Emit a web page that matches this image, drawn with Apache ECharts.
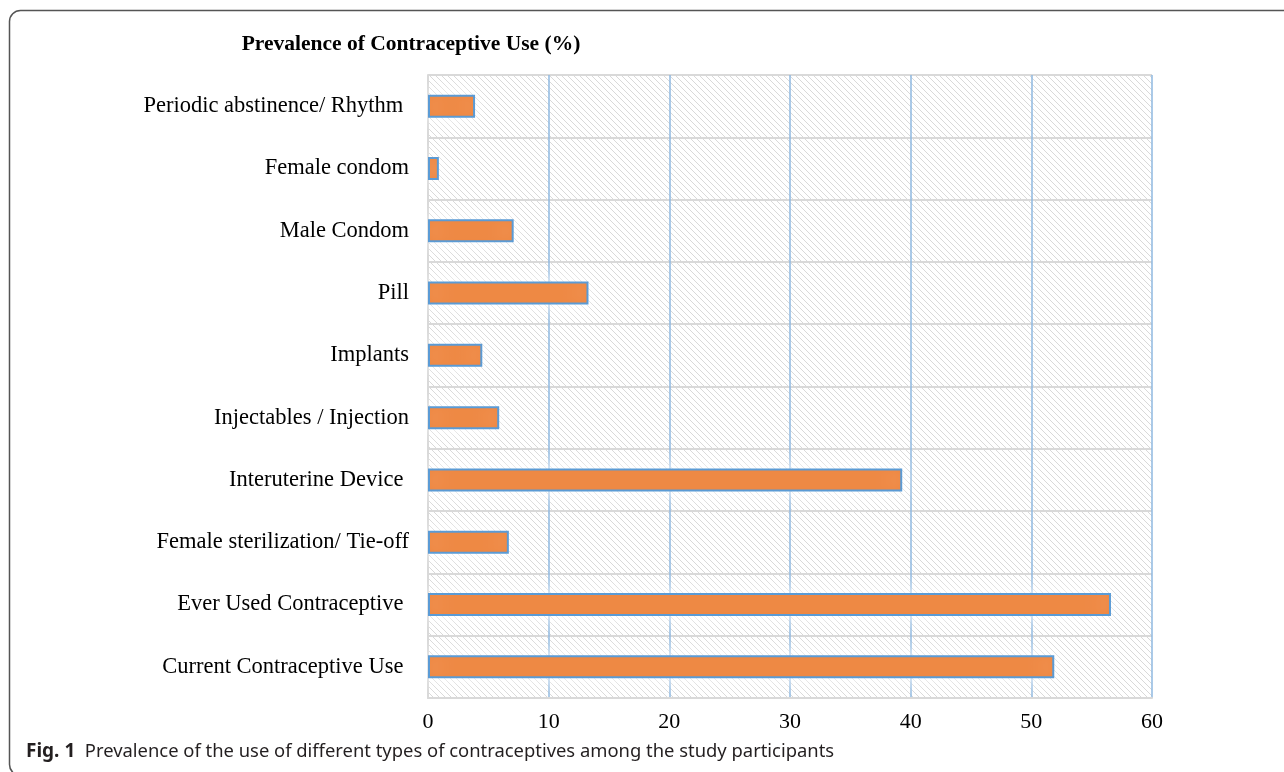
<!DOCTYPE html>
<html>
<head>
<meta charset="utf-8">
<script src="https://cdn.jsdelivr.net/npm/echarts@6/dist/echarts.min.js"></script>
<style>
  html, body { margin: 0; padding: 0; background: #fff; }
  #chart { width: 1284px; height: 772px; }
</style>
</head>
<body>
<div id="chart"></div>
<script>
  // categories bottom to top (category axis draws first item at the bottom)
  const categories = [
    'Current Contraceptive Use ',
    'Ever Used Contraceptive ',
    'Female sterilization/ Tie-off',
    'Interuterine Device ',
    'Injectables / Injection',
    'Implants',
    'Pill',
    'Male Condom',
    'Female condom',
    'Periodic abstinence/ Rhythm '
  ]
  const prevalence = [51.9, 56.6, 6.7, 39.3, 5.9, 4.5, 13.3, 7.1, 0.9, 3.9]
  const xTicks = [0, 10, 20, 30, 40, 50, 60]

  // diagonal hatch for the plot background
  const hatch = document.createElement('canvas')
  hatch.width = 6
  hatch.height = 6
  const hc = hatch.getContext('2d')
  hc.fillStyle = '#ffffff'
  hc.fillRect(0, 0, 6, 6)
  hc.strokeStyle = '#d9d9d9'
  hc.lineWidth = 1
  hc.beginPath()
  hc.moveTo(-1, -1); hc.lineTo(7, 7)
  hc.moveTo(-1, 5); hc.lineTo(1, 7)
  hc.moveTo(5, -1); hc.lineTo(7, 1)
  hc.stroke()

  const serif = '"Liberation Serif", "DejaVu Serif", serif'
  const chart = echarts.init(document.getElementById('chart'))
  chart.setOption({
    backgroundColor: '#fff',
    animation: false,
    title: {
      text: 'Prevalence of Contraceptive Use (%)',
      left: 406,
      top: 28,
      textAlign: 'center',
      textStyle: { fontFamily: serif, fontSize: 21.5, fontWeight: 'bold', color: '#000' }
    },
    grid: {
      left: 428, right: 132, top: 75, bottom: 74,
      show: true,
      borderWidth: 0,
      backgroundColor: { image: hatch, repeat: 'repeat' }
    },
    xAxis: {
      type: 'value',
      min: xTicks[0],
      max: xTicks[xTicks.length - 1],
      interval: 10,
      axisLine: { show: true, lineStyle: { color: '#d9d9d9', width: 2 } },
      axisTick: { show: false },
      axisLabel: { color: '#000', fontFamily: serif, fontSize: 22, margin: 13 },
      splitLine: { show: true, lineStyle: { color: '#8fb8e0', width: 1.5 } }
    },
    yAxis: {
      type: 'category',
      data: categories,
      axisLine: { show: true, lineStyle: { color: '#d9d9d9', width: 2 } },
      axisTick: { show: false },
      axisLabel: { color: '#000', fontFamily: serif, fontSize: 22.5, margin: 19 },
      splitLine: { show: true, lineStyle: { color: '#d9d9d9', width: 2 } }
    },
    series: [{
      type: 'bar',
      data: prevalence,
      barWidth: 23,
      itemStyle: {
        color: '#ED7D31',
        borderColor: '#5B9BD5',
        borderWidth: 2,
        shadowColor: 'rgba(255,255,255,1)',
        shadowBlur: 20
      }
    }],
    graphic: [
      {
        type: 'rect',
        silent: true,
        shape: { x: 9.5, y: 10.5, width: 1400, height: 765, r: 11 },
        style: { fill: null, stroke: '#555', lineWidth: 1.5 }
      },
      {
        type: 'text',
        left: 26,
        top: 742,
        style: {
          text: '{b|Fig. 1}  Prevalence of the use of different types of contraceptives among the study participants',
          fill: '#231f20',
          font: '18.4px "Noto Sans", sans-serif',
          rich: {
            b: { fontWeight: 'bold', fontSize: 19, fontFamily: '"Noto Sans", sans-serif', fill: '#231f20' }
          }
        }
      }
    ]
  })
</script>
</body>
</html>
